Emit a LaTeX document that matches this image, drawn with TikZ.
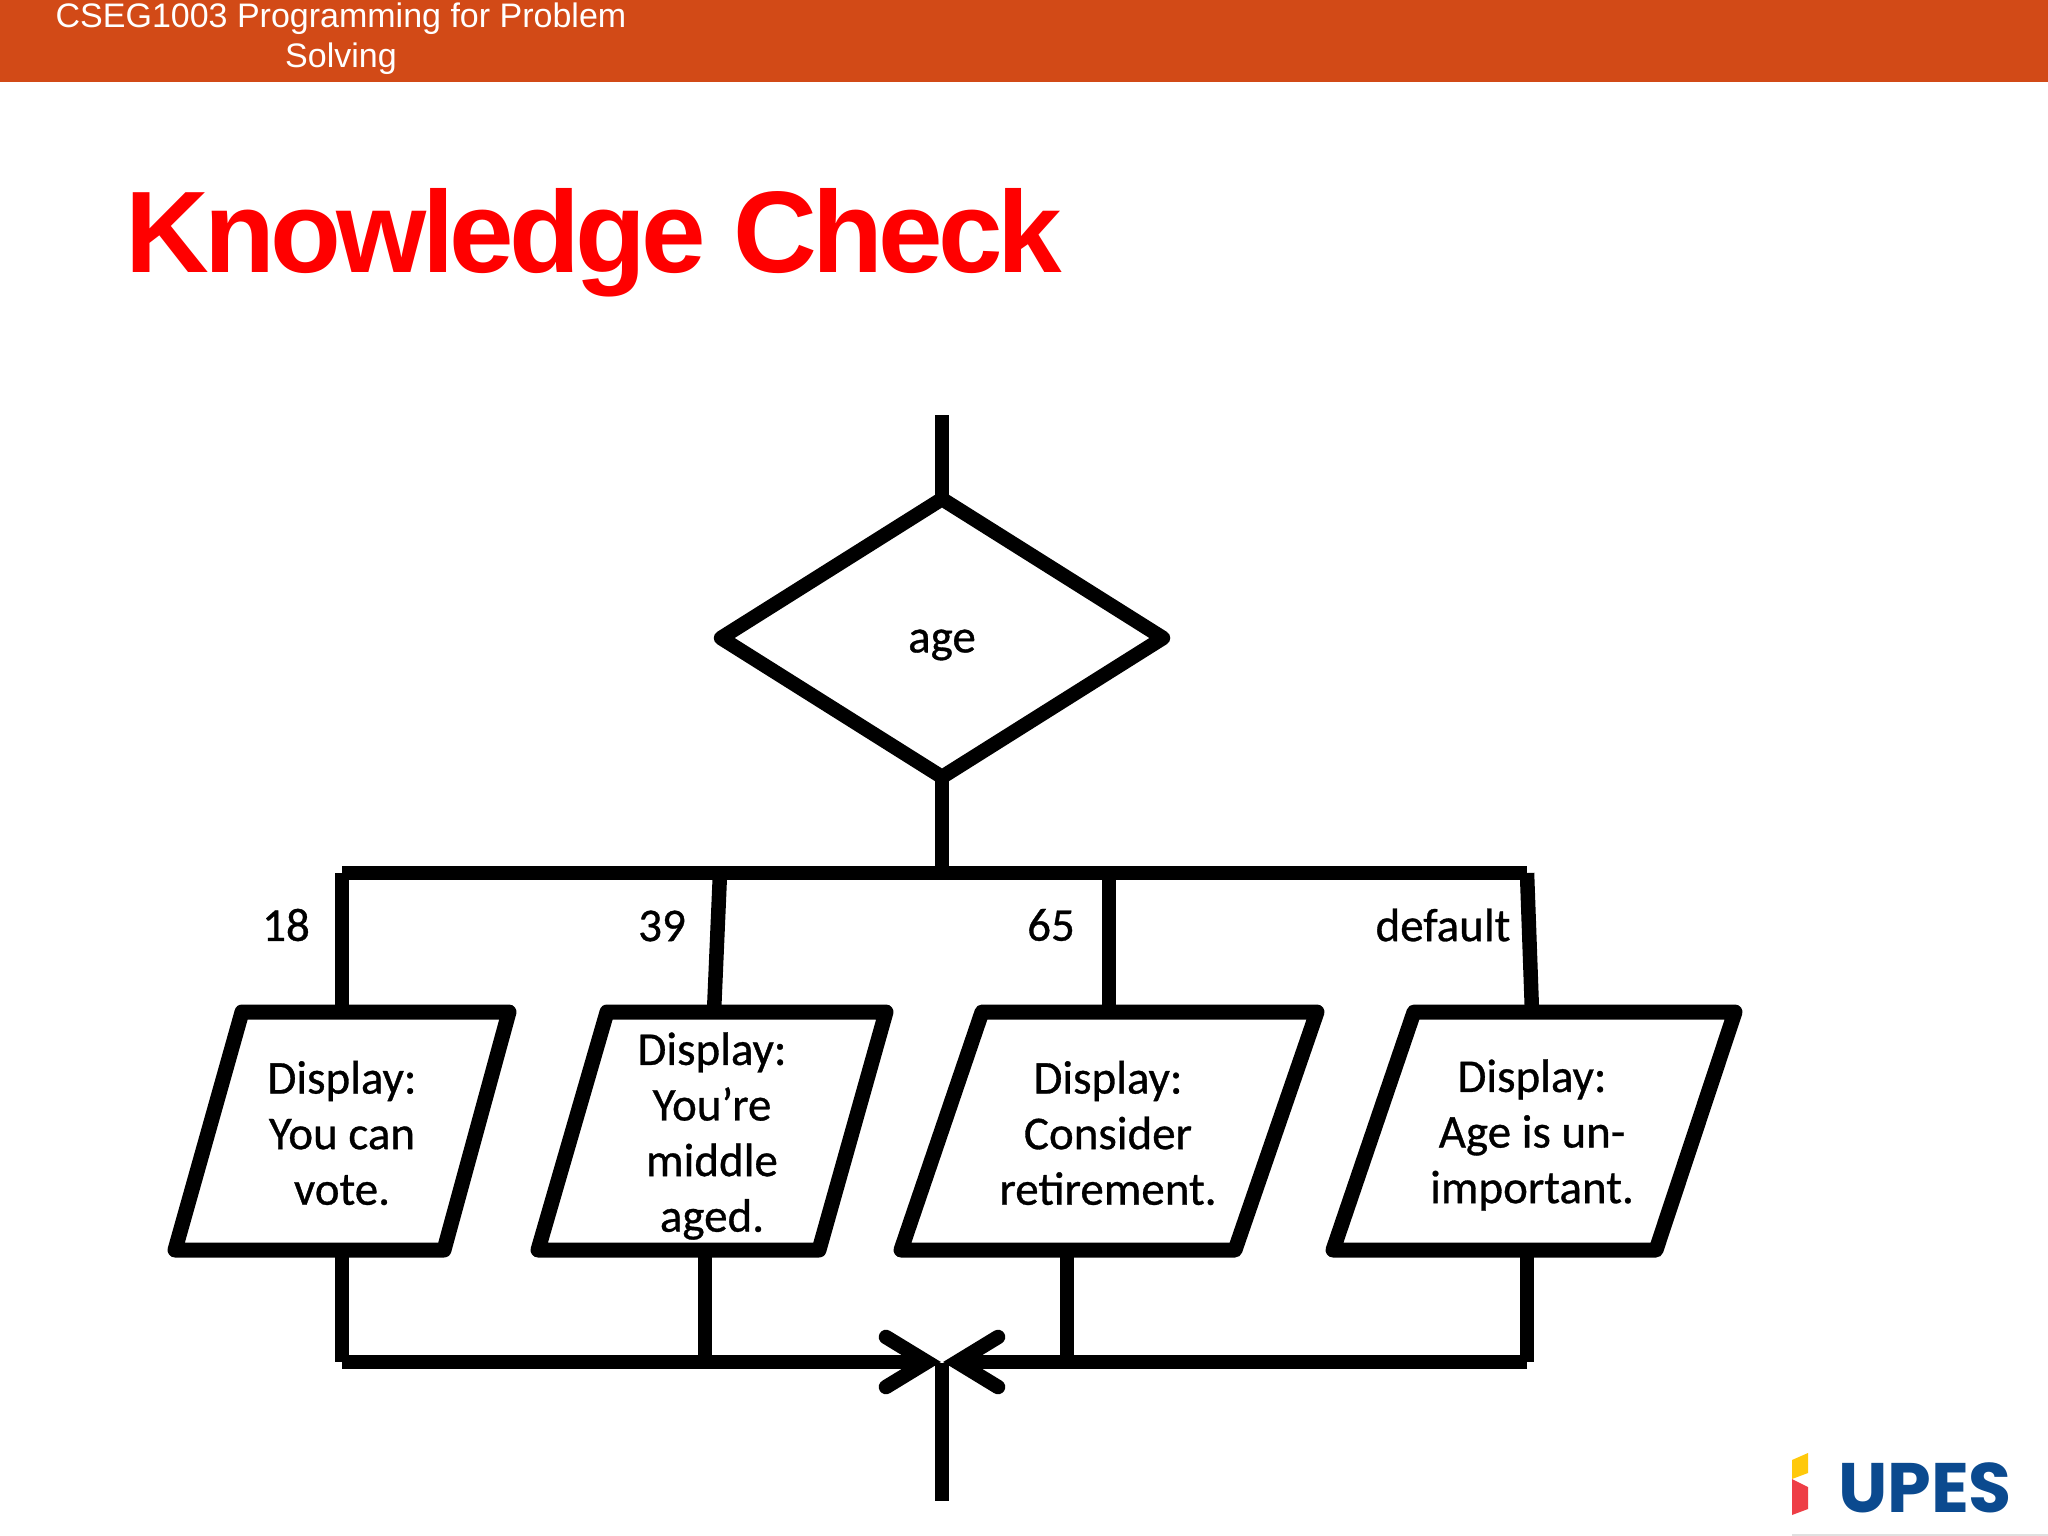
\documentclass[tikz,border=0pt]{standalone}
\usepackage{fontspec}
\setmainfont{Carlito}
\newfontfamily\flowfont[RawFeature={embolden=0.7}]{Carlito}
\newfontfamily\headfont{Liberation Sans}
\newfontfamily\titlefont[LetterSpace=-4.1]{Liberation Sans}
\newfontfamily\logofont{Poppins}
\usetikzlibrary{shapes.geometric}
\definecolor{bar}{HTML}{D24A17}
\definecolor{navy}{HTML}{0B4A8F}
\definecolor{logoyellow}{HTML}{FFC90B}
\definecolor{logored}{HTML}{EE3E46}
\tikzset{
  flow/.style={line width=14.5pt,black},
  tipline/.style={line width=14.5pt,black,line cap=round,line join=miter},
  decision/.style={diamond,draw,line width=14.5pt,line join=round,inner sep=0pt,outer sep=0pt,minimum width=442pt,minimum height=278pt},
  iopath/.style={draw,line width=15pt,line join=round},
  iotext/.style={rectangle,inner sep=0pt,outer sep=0pt,minimum height=238pt,minimum width=200pt},
  body/.style={font=\flowfont\fontsize{47}{55.6}\selectfont,inner sep=0pt,align=center},
}
\begin{document}
\begin{tikzpicture}[x=1pt,y=-1pt]
\useasboundingbox (0,0) rectangle (2048,1536);
\fill[white] (0,0) rectangle (2048,1536);
\fill[bar] (0,0) rectangle (2048,82);
\node[text=white,align=center,inner sep=0pt,font=\headfont\fontsize{34}{40}\selectfont] (head) at (341,39) {CSEG1003 Programming for Problem\\Solving};
\node[text=red,anchor=west,inner sep=0pt,font=\titlefont\bfseries\fontsize{116}{130}\selectfont] (title) at (125,243) {Knowledge Check};

\coordinate (start) at (942,415);
\node[decision] (age) at (942,638) {};
\node[body] (agetext) at (942,645) {age};
\coordinate (busA) at (342,873);
\coordinate (busB) at (720,873);
\coordinate (busC) at (1109,873);
\coordinate (busD) at (1527,873);
\coordinate (busM) at (942,873);

\path[iopath] (242,1012) -- (509,1012) -- (444,1250) -- (175,1250) -- cycle;
\path[iopath] (607,1012) -- (886,1012) -- (819,1250) -- (538,1250) -- cycle;
\path[iopath] (982,1012) -- (1317,1012) -- (1235,1250) -- (901,1250) -- cycle;
\path[iopath] (1414,1012) -- (1735,1012) -- (1656,1250) -- (1333,1250) -- cycle;

\node[iotext] (p1) at (342,1131) {};
\node[iotext] (p2) at (714,1131) {};
\node[iotext] (p3) at (1109,1131) {};
\node[iotext] (p4) at (1532,1131) {};
\node[body] (t1) at (342,1133) {Display:\\You can\\vote.};
\node[body] (t2) at (712,1136) {Display:\\You’re\\middle\\aged.};
\node[body] (t3) at (1108,1133) {Display:\\Consider\\retirement.};
\node[body] (t4) at (1532,1135) {Display:\\Age is un-\\important.};

\node[body] (l18) at (286,925) {18};
\node[body] (l39) at (662,926) {39};
\node[body] (l65) at (1051,925) {65};
\node[body] (ldef) at (1443,925) {default};

\coordinate (joinA) at (342,1362);
\coordinate (joinB) at (705,1362);
\coordinate (joinC) at (1067,1362);
\coordinate (joinD) at (1527,1362);
\coordinate (merge) at (942,1363);
\coordinate (exit) at (942,1501);
\coordinate (tipL) at (927,1362);
\coordinate (tipR) at (957,1362);
\coordinate (tipLU) at (886,1337);
\coordinate (tipLD) at (886,1387);
\coordinate (tipRU) at (998,1337);
\coordinate (tipRD) at (998,1387);

\draw[flow] (start) -- (age.north);
\draw[flow] (age.south) -- (busM);
\draw[flow] (busA) -- (busD);
\draw[flow] (busA) -- (p1.north);
\draw[flow] (busB) -- (p2.north);
\draw[flow] (busC) -- (p3.north);
\draw[flow] (busD) -- (p4.north);
\draw[flow] (p1.south) -- (joinA);
\draw[flow] (p2.south -| joinB) -- (joinB);
\draw[flow] (p3.south -| joinC) -- (joinC);
\draw[flow] (p4.south -| joinD) -- (joinD);
\draw[flow] (joinA) -- (tipL);
\draw[flow] (joinD) -- (tipR);
\draw[flow] (merge) -- (exit);
\draw[tipline] (tipLU) -- (tipL) -- (tipLD);
\draw[tipline] (tipRU) -- (tipR) -- (tipRD);

% logo
\fill[logoyellow] (1792,1460) -- (1808,1453) -- (1808,1473) -- (1792,1479) -- cycle;
\fill[logored] (1792,1479) -- (1808,1487) -- (1808,1509) -- (1792,1515) -- cycle;
\node[text=navy,anchor=center,inner sep=0pt,font=\logofont\bfseries\fontsize{70}{72}\selectfont] (logo) at (1925,1488) {UPES};
\draw[black!12,line width=1.5pt] (1792,1535) -- (2048,1535);
\end{tikzpicture}
\end{document}
